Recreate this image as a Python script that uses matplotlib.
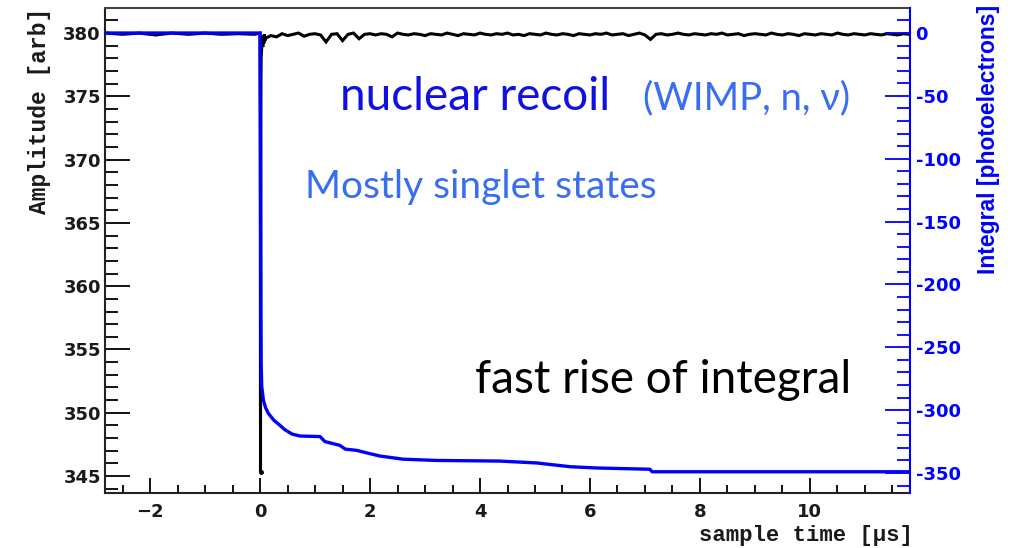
import numpy as np
import matplotlib
matplotlib.use("Agg")
import matplotlib.pyplot as plt
from matplotlib.ticker import MultipleLocator

# ---------------- data ----------------
# black waveform: pre-trigger baseline samples
wave_pre_t = [-2.8, -2.5, -2.2, -1.9, -1.6, -1.3, -1.0, -0.7, -0.4, -0.1, 0.0]
wave_pre_v = [380.0, 379.9, 380.0, 379.85, 380.0, 379.9, 380.0, 379.9, 379.95, 379.9, 380.0]
# spike and fast recovery
spike_t = [0.004, 0.008, 0.012, 0.016, 0.02, 0.03, 0.04, 0.05, 0.06, 0.07, 0.08, 0.09]
spike_v = [372.0, 345.3, 362.0, 375.9, 378.1, 378.9, 379.6, 378.9, 379.8, 379.2, 379.9, 379.4]
# after-pulse baseline samples, every 0.1 us from 0.1 to 11.8 us
wave_post_v = [
    379.6, 379.8, 379.7, 379.95, 379.8, 379.9, 380.0, 379.75, 379.9, 379.95,
    379.85, 379.3, 379.9, 379.95, 379.4, 379.9, 380.0, 379.55, 379.9, 379.95,
    379.85, 379.95, 379.9, 379.7, 380.0, 379.9, 379.85, 379.95, 379.9, 379.8,
    379.95, 379.9, 379.85, 380.0, 379.9, 379.8, 379.95, 379.9, 379.85, 380.0,
    379.9, 379.85, 379.95, 379.9, 380.0, 379.85, 379.9, 379.8, 379.95, 379.9,
    379.85, 380.0, 379.9, 379.85, 379.95, 379.9, 379.8, 379.95, 379.9, 379.85,
    379.95, 379.9, 380.0, 379.85, 379.9, 379.95, 379.8, 379.9, 380.0, 379.85,
    379.5, 379.9, 379.95, 379.85, 379.9, 380.0, 379.9, 379.85, 379.95, 379.9,
    379.85, 379.95, 379.9, 380.0, 379.85, 379.9, 379.95, 379.8, 379.9, 379.95,
    379.9, 379.85, 380.0, 379.9, 379.85, 379.95, 379.9, 379.8, 379.95, 379.9,
    379.85, 379.95, 379.9, 379.85, 380.0, 379.9, 379.85, 379.95, 379.9, 379.85,
    379.95, 379.9, 379.85, 379.95, 379.9, 379.85, 379.95, 379.9,
]
wave_post_t = np.round(np.arange(len(wave_post_v)) * 0.1 + 0.1, 3)

# integral (photoelectrons)
integ_t = [-2.82, 0.0, 0.005, 0.01, 0.015, 0.02, 0.03, 0.06, 0.1, 0.15, 0.25, 0.36,
           0.45, 0.58, 0.73, 1.09, 1.18, 1.45, 1.55, 1.76, 1.94, 2.18, 2.6, 3.21,
           4.36, 5.03, 5.64, 6.12, 7.09, 7.13, 11.82]
integ_v = [0, 0, -60, -150, -220, -262, -281, -292, -298, -302.5, -308, -312,
           -315.5, -319, -320.6, -321, -325, -328, -331, -332, -334, -336.5, -339, -340,
           -340.5, -342, -345, -346, -347, -349, -349]

x_ticks = [-2, 0, 2, 4, 6, 8, 10]
x_ticklabels = ["\u22122", "0", "2", "4", "6", "8", "10"]
yl_ticks = [345, 350, 355, 360, 365, 370, 375, 380]
yr_ticks = [0, -50, -100, -150, -200, -250, -300, -350]
yr_ticklabels = ["0", "-50", "-100", "-150", "-200", "-250", "-300", "-350"]

# ---------------- figure ----------------
W, H = 1011, 548
fig = plt.figure(figsize=(W / 100, H / 100), dpi=100)
ax = fig.add_axes([105 / W, 1 - 493 / H, 805 / W, 485 / H])
ax2 = ax.twinx()

wt = list(wave_pre_t) + list(spike_t) + list(wave_post_t)
wv = list(wave_pre_v) + list(spike_v) + list(wave_post_v)
ax.plot(wt, wv, color="black", lw=2.2, solid_joinstyle="miter")
ax.plot([0.008], [345.3], "o", color="black", ms=2.5)

ax2.plot(integ_t, integ_v, color="#0000ff", lw=2.4)

ax.set_xlim(-2.82, 11.82)
ax.set_ylim(343.66, 381.98)
ax2.set_ylim(-365.9, 19.9)

tick_col = "#1a1a1a"
ax.set_xticks(x_ticks)
ax.set_xticklabels(x_ticklabels)
ax.xaxis.set_minor_locator(MultipleLocator(0.5))
ax.set_yticks(yl_ticks)
ax.yaxis.set_minor_locator(MultipleLocator(1))
ax.tick_params(axis="x", which="major", direction="in", length=10.8, width=1.3,
               pad=7, labelsize=13, labelcolor=tick_col, top=False)
ax.tick_params(axis="x", which="minor", direction="in", length=5.8, width=1.3, top=False)
ax.tick_params(axis="y", which="major", direction="in", length=18, width=1.3,
               pad=3, labelsize=13, labelcolor=tick_col, right=False)
ax.tick_params(axis="y", which="minor", direction="in", length=9.4, width=1.3, right=False)
for lab in ax.get_xticklabels() + ax.get_yticklabels():
    lab.set_fontfamily("DejaVu Sans")
    lab.set_fontweight("bold")

ax2.set_yticks(yr_ticks)
ax2.set_yticklabels(yr_ticklabels)
ax2.yaxis.set_minor_locator(MultipleLocator(10))
ax2.tick_params(axis="y", which="major", direction="in", length=18, width=1.3,
                pad=4, labelsize=13, labelcolor="#0000ff", color="#0000ff")
ax2.tick_params(axis="y", which="minor", direction="in", length=9.4, width=1.3,
                color="#0000ff")
for lab in ax2.get_yticklabels():
    lab.set_fontfamily("DejaVu Sans")
    lab.set_fontweight("bold")

for sp in ["left", "bottom"]:
    ax.spines[sp].set_linewidth(1.5)
    ax.spines[sp].set_color("#222222")
ax.spines["top"].set_linewidth(1.5)
ax.spines["top"].set_color("#444444")
ax.spines["right"].set_visible(False)
ax2.spines["right"].set_color("#0000ff")
ax2.spines["right"].set_linewidth(1.5)
for sp in ["left", "top", "bottom"]:
    ax2.spines[sp].set_visible(False)

# axis titles (ROOT style)
fig.text(40 / W, 1 - 8 / H, "Amplitude [arb]", rotation=90, ha="center", va="top",
         fontsize=16.5, fontweight="bold", family="Liberation Mono", color=tick_col)
fig.text(913 / W, 1 - 535 / H, "sample time [\u00b5s]", ha="right", va="center",
         fontsize=16, fontweight="bold", family="Liberation Mono", color=tick_col)
fig.text(988 / W, 1 - 5 / H, "Integral [photoelectrons]", rotation=90, ha="center",
         va="top", fontsize=16.5, fontweight="bold", family="Liberation Sans",
         color="#0000ff")

# slide annotations
fig.text(340 / W, 1 - 97 / H, "nuclear recoil", ha="left", va="center",
         fontsize=33, family="Lato", color="#1010e0")
fig.text(643 / W, 1 - 98 / H, "(WIMP, n, \u03bd)", ha="left", va="center",
         fontsize=27.5, family="Lato", color="#3a6ef0")
fig.text(305 / W, 1 - 187 / H, "Mostly singlet states", ha="left", va="center",
         fontsize=28, family="Lato", color="#3a6ef0")
fig.text(475 / W, 1 - 380 / H, "fast rise of integral", ha="left", va="center",
         fontsize=33, family="Lato", color="black")

fig.savefig("out.png", dpi=100)
